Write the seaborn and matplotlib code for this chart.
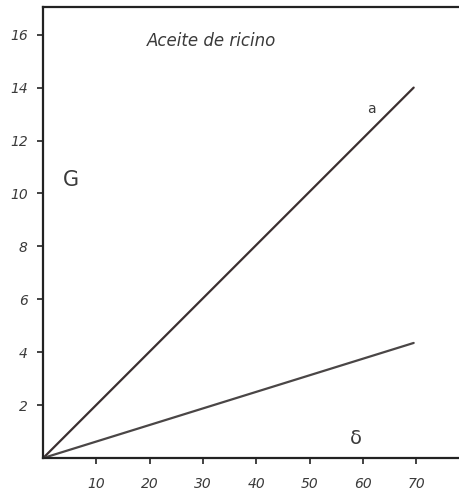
import matplotlib
matplotlib.use("Agg")
import matplotlib.pyplot as plt
import seaborn as sns
import pandas as pd

# Castor oil: two straight-line relations through the origin
x_vals = [0, 69.5]
curve_a = [0, 14.0]
curve_delta = [0, 4.35]
x_ticks = [10, 20, 30, 40, 50, 60, 70]
y_ticks = [2, 4, 6, 8, 10, 12, 14, 16]
title = "Aceite de ricino"

df = pd.DataFrame({
    "x": x_vals * 2,
    "y": curve_a + curve_delta,
    "curva": ["a"] * len(x_vals) + ["δ"] * len(x_vals),
})

sns.set_style("white")
plt.rcParams["font.family"] = ["DejaVu Sans"]

fig = plt.figure(figsize=(4.59, 4.92), dpi=100)
ax = fig.add_axes([0.094, 0.069, 0.906, 0.917])

sns.lineplot(data=df, x="x", y="y", hue="curva",
             palette={"a": "#3b2f30", "δ": "#4a4646"},
             linewidth=1.6, legend=False, ax=ax)

ax.set_xlim(0, 78)
ax.set_ylim(0, 17.05)
ax.set_xticks(x_ticks)
ax.set_yticks(y_ticks)
ax.set_xticklabels([str(t) for t in x_ticks], fontstyle="italic",
                   fontsize=10, color="#3a3a3a")
ax.set_yticklabels([str(t) for t in y_ticks], fontstyle="italic",
                   fontsize=10, color="#3a3a3a")
ax.set_xlabel("")
ax.set_ylabel("")

ax.tick_params(axis="both", direction="out", length=4, width=1.2,
               color="#222222", bottom=True, left=True)
ax.tick_params(axis="x", pad=10)
ax.tick_params(axis="y", pad=7)

for side in ("left", "bottom", "top"):
    ax.spines[side].set_color("#222222")
    ax.spines[side].set_linewidth(1.6)
ax.spines["right"].set_visible(False)

ax.text(19.5, 15.75, title, fontstyle="italic", fontsize=12,
        color="#3a3a3a", ha="left", va="center")
ax.text(61.5, 13.2, "a", fontsize=10, color="#3a3a3a",
        ha="center", va="center")
ax.text(5.2, 10.5, "G", fontsize=15, color="#3a3a3a",
        ha="center", va="center")
ax.text(58.7, 0.75, "δ", fontsize=14, color="#3a3a3a",
        ha="center", va="center")

fig.savefig("out.png", dpi=100, facecolor="white")
